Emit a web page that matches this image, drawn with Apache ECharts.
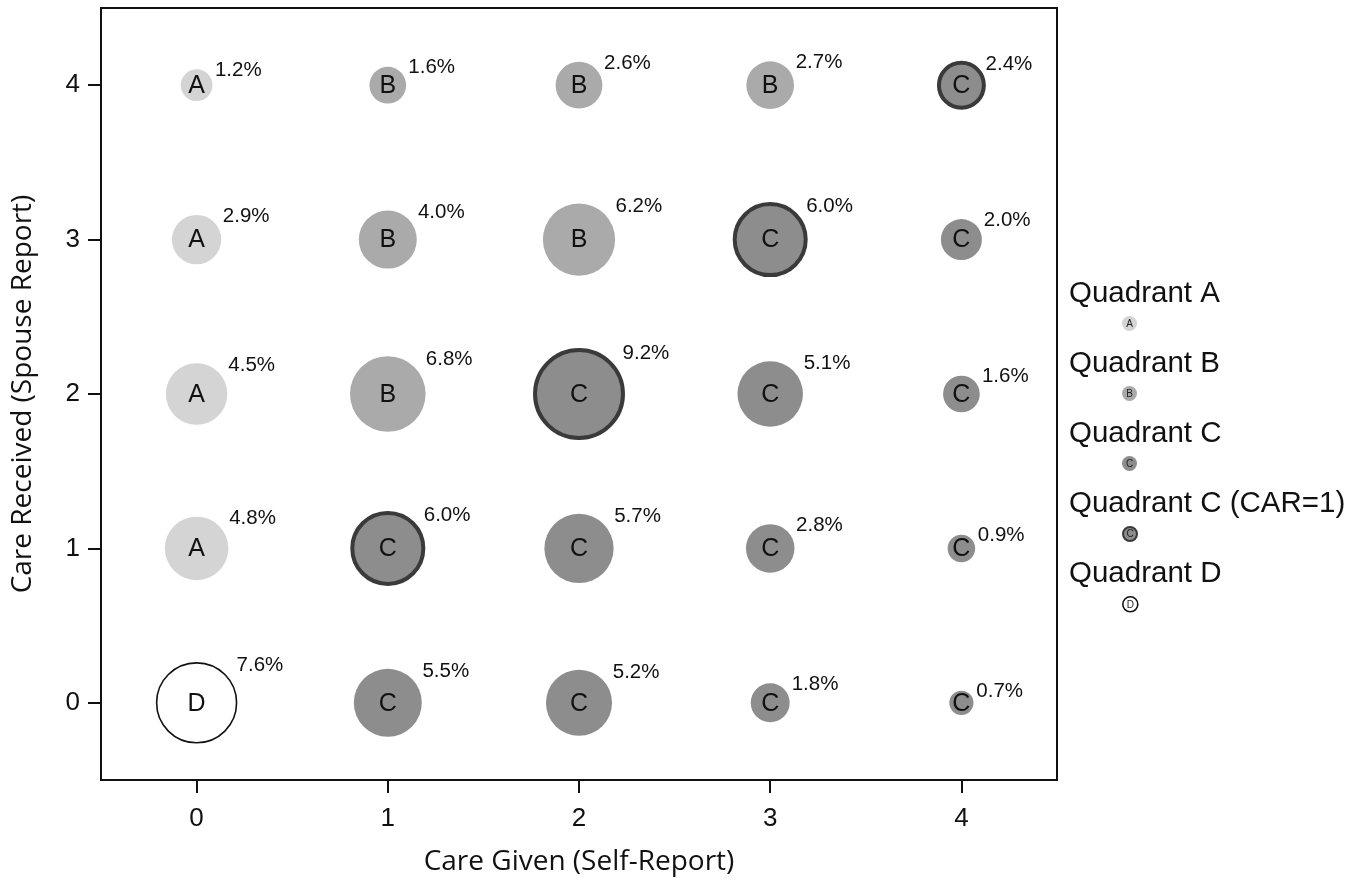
<!DOCTYPE html>
<html>
<head>
<meta charset="utf-8">
<script src="https://cdn.jsdelivr.net/npm/echarts@6/dist/echarts.min.js"></script>
<style>
  html, body { margin: 0; padding: 0; background: #fff; }
  #chart { width: 1365px; height: 887px; }
</style>
</head>
<body>
<div id="chart"></div>
<script>
// ---- Data ----
const careGiven = ['0', '1', '2', '3', '4'];      // x categories
const careReceived = ['0', '1', '2', '3', '4'];   // y categories

// percentages, one array per Care Received row (index = Care Given)
const pctRecv0 = [7.6, 5.5, 5.2, 1.8, 0.7];
const pctRecv1 = [4.8, 6.0, 5.7, 2.8, 0.9];
const pctRecv2 = [4.5, 6.8, 9.2, 5.1, 1.6];
const pctRecv3 = [2.9, 4.0, 6.2, 6.0, 2.0];
const pctRecv4 = [1.2, 1.6, 2.6, 2.7, 2.4];

// quadrant for each cell ('C1' = Quadrant C with CAR=1)
const quadRecv0 = ['D', 'C', 'C', 'C', 'C'];
const quadRecv1 = ['A', 'C1', 'C', 'C', 'C'];
const quadRecv2 = ['A', 'B', 'C1', 'C', 'C'];
const quadRecv3 = ['A', 'B', 'B', 'C1', 'C'];
const quadRecv4 = ['A', 'B', 'B', 'B', 'C1'];

const legendNames = ['Quadrant A', 'Quadrant B', 'Quadrant C', 'Quadrant C (CAR=1)', 'Quadrant D'];
const legendKeys = ['A', 'B', 'C', 'C1', 'D'];

// ---- Build ----
const pctRows = [pctRecv0, pctRecv1, pctRecv2, pctRecv3, pctRecv4];
const quadRows = [quadRecv0, quadRecv1, quadRecv2, quadRecv3, quadRecv4];
const points = [];
const pointQuad = [];
pctRows.forEach((row, yi) => {
  row.forEach((p, xi) => {
    points.push([xi, yi, p]);
    pointQuad.push(quadRows[yi][xi]);
  });
});

const styles = {
  A:  { fill: '#d4d4d4', stroke: null, lw: 0 },
  B:  { fill: '#aaaaaa', stroke: null, lw: 0 },
  C:  { fill: '#8d8d8d', stroke: null, lw: 0 },
  C1: { fill: '#8d8d8d', stroke: '#3a3a3a', lw: 4 },
  D:  { fill: '#ffffff', stroke: '#111111', lw: 1.6 }
};
const FONT = '"Liberation Sans", Arial, sans-serif';
const SIZE_K = 14.5; // radius = K * sqrt(percent)

function renderItem(params, api) {
  const xi = api.value(0), yi = api.value(1), p = api.value(2);
  const c = api.coord([xi, yi]);
  const q = pointQuad[params.dataIndex];
  const st = styles[q];
  const r = SIZE_K * Math.sqrt(p);
  const offX = 0.9 * r + 4;
  const offY = 0.9 * r + 1;
  return {
    type: 'group',
    children: [
      {
        type: 'circle',
        shape: { cx: c[0], cy: c[1], r: r },
        style: { fill: st.fill, stroke: st.stroke, lineWidth: st.lw }
      },
      {
        type: 'text',
        style: {
          text: q.charAt(0), x: c[0], y: c[1] + 1,
          align: 'center', verticalAlign: 'middle',
          font: '25px ' + FONT, fill: '#111'
        }
      },
      {
        type: 'text',
        style: {
          text: p.toFixed(1) + '%', x: c[0] + offX, y: c[1] - offY,
          align: 'left', verticalAlign: 'middle',
          font: '20.5px ' + FONT, fill: '#111'
        }
      }
    ]
  };
}

// legend drawn as graphic elements (label above, small icon below)
const legendGraphics = [];
legendNames.forEach((name, i) => {
  const top = 297 + i * 70;
  const st = styles[legendKeys[i]];
  legendGraphics.push({
    type: 'text', left: 1069, top: top - 18,
    style: { text: name, font: '29.5px ' + FONT, fill: '#111' }
  });
  legendGraphics.push({
    type: 'group', left: 1122, top: top + 19,
    children: [
      { type: 'circle', shape: { cx: 7.5, cy: 7.5, r: legendKeys[i] === 'C1' ? 7 : 7.5 },
        style: { fill: st.fill, stroke: st.stroke, lineWidth: st.lw ? Math.min(st.lw, 2) : 0 } },
      { type: 'text', style: { text: legendKeys[i].charAt(0), x: 7.5, y: 8, align: 'center',
        verticalAlign: 'middle', font: '10px ' + FONT, fill: '#222' } }
    ]
  });
});

const chart = echarts.init(document.getElementById('chart'), null, { renderer: 'canvas' });
chart.setOption({
  animation: false,
  backgroundColor: '#fff',
  grid: {
    left: 101, right: 308, top: 8, bottom: 107,
    show: true, borderColor: '#111', borderWidth: 2, backgroundColor: 'transparent'
  },
  xAxis: {
    type: 'category', data: careGiven, boundaryGap: true,
    name: 'Care Given (Self-Report)', nameLocation: 'middle', nameGap: 68,
    nameTextStyle: { fontFamily: '"Open Sans", sans-serif', fontSize: 28, color: '#111' },
    axisLine: { show: true, lineStyle: { color: '#111', width: 2 } },
    axisTick: { show: true, alignWithLabel: true, length: 13, lineStyle: { color: '#111', width: 2 } },
    axisLabel: { fontFamily: FONT, fontSize: 26, color: '#111', margin: 26 },
    splitLine: { show: false }
  },
  yAxis: {
    type: 'category', data: careReceived, boundaryGap: true,
    name: 'Care Received (Spouse Report)', nameLocation: 'middle', nameGap: 64,
    nameTextStyle: { fontFamily: '"Open Sans", sans-serif', fontSize: 28, color: '#111' },
    axisLine: { show: true, lineStyle: { color: '#111', width: 2 } },
    axisTick: { show: true, alignWithLabel: true, length: 13, lineStyle: { color: '#111', width: 2 } },
    axisLabel: { fontFamily: FONT, fontSize: 26, color: '#111', margin: 21 },
    splitLine: { show: false }
  },
  series: [{
    type: 'custom',
    renderItem: renderItem,
    data: points,
    encode: { x: 0, y: 1 },
    clip: false
  }],
  graphic: legendGraphics
});
</script>
</body>
</html>
